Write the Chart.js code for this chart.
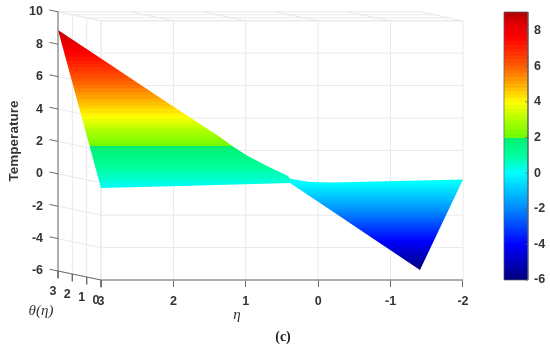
<!DOCTYPE html>
<html><head><meta charset="utf-8">
<style>html,body{margin:0;padding:0;background:#fff}canvas{display:block;filter:blur(0.35px)}</style>
<script src="https://cdn.jsdelivr.net/npm/chart.js@4"></script>
</head><body><canvas id="c" width="550" height="351"></canvas>
<script>
// Tick labels
const etaTicks = [3, 2, 1, 0, -1, -2];
const thetaTicks = [3, 2, 1, 0];
const tempTicks = [10, 8, 6, 4, 2, 0, -2, -4, -6];
const colorbarTicks = [8, 6, 4, 2, 0, -2, -4, -6];
// Surface outlines as seen in the picture (eta, temperature on the front wall)
const leftUpperEta = [3.594, 3.0, 1.992, 1.398, 1.177, 0.984, 0.707, 0.417, 0.39];
const leftUpperTemp = [9.43, 7.67, 4.68, 2.95, 2.24, 1.685, 1.04, 0.42, 0.25];
const leftLowerEta = [3.594, 3.0, 1.633, 0.39];
const leftLowerTemp = [9.43, -0.32, -0.16, -0.01];
const rightUpperEta = [0.39, 0.113, -0.204, -2.0];
const rightUpperTemp = [0.25, 0.05, 0.02, 0.20];
const rightLowerEta = [0.39, -0.025, -1.406, -2.0];
const rightLowerTemp = [-0.01, -1.25, -5.38, 0.20];
// Colormap
const cmapValues = [-6, -4, -2, 0, 1, 2, 2, 3, 3.95, 5, 6, 7.6, 8.4, 9.1];
const cmapColors = ['#00007c','#0000ff','#0088ff','#00ffff','#00ff9c','#00f070','#70fa00','#acff00','#ffff00','#ffaa00','#ff5c00','#ff0000','#e00000','#a80000'];
// Colour value versus drawn height on each sheet of the surface
const leftSheetValues = [-6, 0.1, 2, 3.9, 9.2];
const leftSheetTemps = [-7, -0.3, 2.3, 4.0, 9.7];
const rightSheetValues = [-6, 0.2, 9.2];
const rightSheetTemps = [-5.4, 0.2, 9.4];
const barValues = [-6, 9.2];
const thetaShiftX = 0.198, thetaShiftY = 0.185;
const project = (eta, theta, T) => ({x: eta + theta * thetaShiftX, y: T + theta * thetaShiftY});
const gap = {x: NaN, y: NaN};
const tMin = -6, tMax = 10, thetaMax = 3, etaFront = 3, etaEnd = -2;
const xMin = -2.898, xMax = 3.594, barLeft = -2.566, barTick = -2.858;
const barMin = -6, barMax = 9.05;

function pairs(xs, ys) { return xs.map((x, i) => ({x, y: ys[i]})); }
function segs(list) { const o = []; list.forEach(s => o.push(s[0], s[1], gap)); return o; }
function interp(v, xs, ys) {
  let i = 0;
  while (i < xs.length - 2 && v > xs[i + 1]) i++;
  return ys[i] + (ys[i + 1] - ys[i]) * (v - xs[i]) / (xs[i + 1] - xs[i]);
}

const gridSegs = [];
etaTicks.forEach(e => {
  gridSegs.push([project(e, 0, tMin), project(e, 0, tMax)]);
  gridSegs.push([project(e, 0, tMax), project(e, thetaMax, tMax)]);
});
tempTicks.forEach(t => {
  gridSegs.push([project(etaFront, 0, t), project(etaEnd, 0, t)]);
  gridSegs.push([project(etaFront, 0, t), project(etaFront, thetaMax, t)]);
});
thetaTicks.forEach(th => {
  gridSegs.push([project(etaFront, th, tMin), project(etaFront, th, tMax)]);
  gridSegs.push([project(etaFront, th, tMax), project(etaEnd, th, tMax)]);
});
const axisSegs = [
  [project(etaFront, thetaMax, tMin), project(etaFront, thetaMax, tMax)],
  [project(etaFront, thetaMax, tMin), project(etaFront, 0, tMin)],
  [project(etaFront, 0, tMin), project(etaEnd, 0, tMin)]
];
tempTicks.forEach(t => axisSegs.push([project(etaFront, thetaMax, t), project(etaFront, thetaMax + 0.6, t)]));
thetaTicks.forEach(th => {
  const p = project(etaFront, th, tMin);
  axisSegs.push([p, {x: p.x, y: p.y - 0.45}]);
});
const barTickSegs = colorbarTicks.map(v => [{x: xMin, y: v}, {x: barTick, y: v}]);

function colorAt(v) {
  let i = 0;
  while (i < cmapValues.length - 2 && v > cmapValues[i + 1]) i++;
  const a = cmapValues[i], b = cmapValues[i + 1];
  const f = b === a ? 0 : Math.min(1, Math.max(0, (v - a) / (b - a)));
  const h = s => [1, 3, 5].map(k => parseInt(s.substr(k, 2), 16));
  const ca = h(cmapColors[i]), cb = h(cmapColors[i + 1]);
  return 'rgb(' + ca.map((c, k) => Math.round(c + (cb[k] - c) * f)).join(',') + ')';
}
function bandedGradient(chart, scaleId, vals, temps) {
  const s = chart.scales[scaleId];
  if (!s || !chart.chartArea) return '#000';
  const lo = -6, hi = 9.2;
  const px = v => s.getPixelForValue(interp(v, vals, temps));
  const y0 = px(hi), y1 = px(lo);
  if (!isFinite(y0) || !isFinite(y1)) return '#000';
  const g = chart.ctx.createLinearGradient(0, y0, 0, y1);
  const pos = v => Math.min(1, Math.max(0, (px(v) - y0) / (y1 - y0)));
  let top = hi;
  while (top > lo + 1e-6) {
    const step = top > 2.0001 ? 0.2 : 0.1;
    const bot = top - step;
    const mid = (top + bot) / 2;
    g.addColorStop(pos(top), colorAt(mid));
    g.addColorStop(pos(bot), colorAt(mid));
    top = bot;
  }
  return g;
}
const noPadY = h => s => { s.width = h; s.paddingTop = 0; s.paddingBottom = 0; };

const textPlugin = {
  id: 'textPlugin',
  afterDraw(chart) {
    const c = chart.ctx, sx = chart.scales.x, sy = chart.scales.y;
    c.save();
    c.fillStyle = '#333';
    c.textAlign = 'center'; c.textBaseline = 'middle';
    c.font = 'bold 12.5px "Liberation Sans"';
    thetaTicks.forEach(th => {
      const p = project(etaFront, th, tMin);
      c.fillText(String(th), sx.getPixelForValue(p.x) - 5, sy.getPixelForValue(p.y) + 21);
    });
    c.save();
    c.translate(14, 141); c.rotate(-Math.PI / 2);
    c.font = 'bold 13.5px "Liberation Sans"';
    c.fillText('Temperature', 0, 0);
    c.restore();
    c.font = 'italic 15px "Liberation Serif"';
    c.fillText('θ(η)', 41, 311);
    c.fillText('η', 237, 315);
    c.font = 'bold 14px "Liberation Serif"';
    c.fillStyle = '#222';
    c.fillText('(c)', 283, 337);
    c.restore();
  }
};

const tickFont = {family: '"Liberation Sans"', weight: 'bold', size: 12.5};
const line = {type: 'scatter', showLine: true, pointRadius: 0, clip: false};

new Chart(document.getElementById('c'), {
  type: 'scatter',
  plugins: [textPlugin],
  data: {datasets: [
    {...line, label: 'grid', data: segs(gridSegs), borderColor: '#e9e9e9', borderWidth: 1, order: 5},
    {...line, label: 'left sheet upper', data: pairs(leftUpperEta, leftUpperTemp), borderWidth: 0, fill: '+1', order: 2,
      backgroundColor: ctx => bandedGradient(ctx.chart, 'y', leftSheetValues, leftSheetTemps)},
    {...line, label: 'left sheet lower', data: pairs(leftLowerEta, leftLowerTemp), borderWidth: 0, fill: false, order: 2},
    {...line, label: 'right sheet upper', data: pairs(rightUpperEta, rightUpperTemp), borderWidth: 0, fill: '+1', order: 2,
      backgroundColor: ctx => bandedGradient(ctx.chart, 'y', rightSheetValues, rightSheetTemps)},
    {...line, label: 'right sheet lower', data: pairs(rightLowerEta, rightLowerTemp), borderWidth: 0, fill: false, order: 2},
    {...line, label: 'axes', data: segs(axisSegs), borderColor: '#6a6a6a', borderWidth: 1, order: 1},
    {...line, label: 'colorbar', yAxisID: 'yBar', data: [{x: barLeft, y: barMax}, {x: xMin, y: barMax}], borderWidth: 0, fill: 'start', order: 3,
      backgroundColor: ctx => bandedGradient(ctx.chart, 'yBar', barValues, barValues)},
    {...line, label: 'colorbar frame', yAxisID: 'yBar', borderColor: '#55606a', borderWidth: 0.7, order: 0,
      data: [{x: barLeft, y: barMax}, {x: xMin, y: barMax}, {x: xMin, y: barMin}, {x: barLeft, y: barMin}, {x: barLeft, y: barMax}]},
    {...line, label: 'colorbar ticks', yAxisID: 'yBar', borderColor: '#55606a', borderWidth: 0.7, order: 0, data: segs(barTickSegs)}
  ]},
  options: {
    responsive: false, animation: false,
    layout: {padding: {top: 12, left: 0, right: 0, bottom: 0}},
    plugins: {legend: {display: false}, tooltip: {enabled: false}, title: {display: false}},
    scales: {
      x: {
        type: 'linear', reverse: true, min: xMin, max: xMax,
        afterBuildTicks: s => { s.ticks = etaTicks.map(value => ({value})); },
        afterFit: s => { s.height = 71; s.paddingLeft = 0; s.paddingRight = 0; },
        grid: {display: true, drawOnChartArea: false, drawTicks: true, tickLength: 7, tickColor: '#6a6a6a'},
        border: {display: false},
        ticks: {font: tickFont, color: '#333', padding: 7, maxRotation: 0, autoSkip: false, callback: v => String(v)}
      },
      y: {type: 'linear', display: false, min: tMin, max: 10.543},
      yBack: {
        type: 'linear', position: 'left', min: -6.556, max: tMax,
        afterBuildTicks: s => { s.ticks = tempTicks.map(value => ({value})); },
        afterFit: noPadY(58),
        grid: {display: false, drawTicks: false}, border: {display: false},
        ticks: {font: tickFont, color: '#333', padding: 15, autoSkip: false, callback: v => String(v)}
      },
      yBar: {
        type: 'linear', position: 'right', min: barMin, max: barMax,
        afterBuildTicks: s => { s.ticks = colorbarTicks.map(value => ({value})); },
        afterFit: noPadY(22),
        grid: {display: false, drawTicks: false}, border: {display: false},
        ticks: {font: tickFont, color: '#333', padding: 6, autoSkip: false, callback: v => String(v)}
      }
    }
  }
});
</script></body></html>
